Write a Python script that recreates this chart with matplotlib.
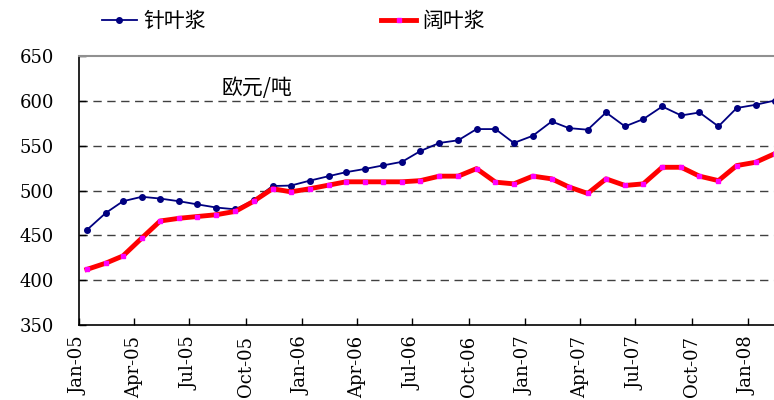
import numpy as np
import pandas as pd
import matplotlib
matplotlib.use("Agg")
import matplotlib.pyplot as plt
import matplotlib.dates as mdates

plt.rcParams['font.family'] = ['DejaVu Serif', 'Noto Sans CJK SC', 'DejaVu Sans']

# monthly observations, Jan-05 .. Feb-08 (plotted mid-month)
months = pd.date_range("2005-01", periods=38, freq="MS") + pd.Timedelta(days=13)

softwood = [456, 475, 488, 493, 491, 488, 484.5, 481, 479, 489,
            505, 505.5, 511, 516, 520.4, 524, 528, 532, 544, 553,
            556, 568.5, 568.5, 553, 561, 577, 569.6, 567.8, 587, 571.5,
            579.6, 593.7, 583.7, 587, 571.5, 592, 595.6, 600.3]
hardwood = [412, 419, 427, 447, 466, 469, 471, 473, 476.7, 488,
            502, 498.5, 502, 506, 509.7, 509.7, 509.7, 509.7, 511, 516,
            516, 524.4, 509.3, 507.4, 516, 513, 504, 496.7, 513, 505.6,
            507.4, 525.9, 525.9, 516, 511, 527.8, 531.5, 541]

labels = ["针叶浆", "阔叶浆"]
unit_label = "欧元/吨"

fig = plt.figure(figsize=(7.74, 4.0), dpi=100)
ax = fig.add_axes([0.102, 0.1875, 0.898, 0.6725])

ax.plot(months, softwood, color="#000080", linewidth=1.3, marker="o",
        markersize=4, markerfacecolor="#000080", markeredgecolor="#000080",
        label=labels[0])
ax.plot(months, hardwood, color="#FF0000", linewidth=3.5, marker="s",
        markersize=3, markerfacecolor="#FF00FF", markeredgecolor="#FF00FF",
        label=labels[1])

ax.set_ylim(350, 650)
ax.set_yticks(np.arange(350, 651, 50))
ax.set_xlim(pd.Timestamp("2005-01-01"), pd.Timestamp("2008-02-13"))
ax.xaxis.set_major_locator(mdates.MonthLocator(bymonth=[1, 4, 7, 10]))
ax.xaxis.set_major_formatter(mdates.DateFormatter("%b-%y"))

for v in range(400, 601, 50):
    ax.axhline(v, color="#404040", linewidth=1.0, linestyle=(0, (6, 4)), zorder=0)

ax.spines["right"].set_visible(False)
ax.spines["top"].set_color("#909090")
ax.spines["top"].set_linewidth(1.5)
ax.spines["left"].set_linewidth(1.2)
ax.spines["bottom"].set_linewidth(1.2)

ax.tick_params(axis="both", direction="in", length=5, width=1, labelsize=13)
ax.tick_params(axis="y", pad=18)
ax.tick_params(axis="x", pad=8)
plt.setp(ax.get_xticklabels(), rotation=90, va="top", ha="center")

ax.text(0.205, 0.88, unit_label, transform=ax.transAxes, fontsize=15,
        family=["Noto Sans CJK SC", "DejaVu Sans"], va="center")

fig.legend(loc="center", bbox_to_anchor=(0.379, 0.947), ncol=2, frameon=False,
           prop={"family": ["Noto Sans CJK SC", "DejaVu Sans"], "size": 15},
           handlelength=1.7, handletextpad=0.3, columnspacing=8.4)

fig.savefig("out.png", dpi=100)
